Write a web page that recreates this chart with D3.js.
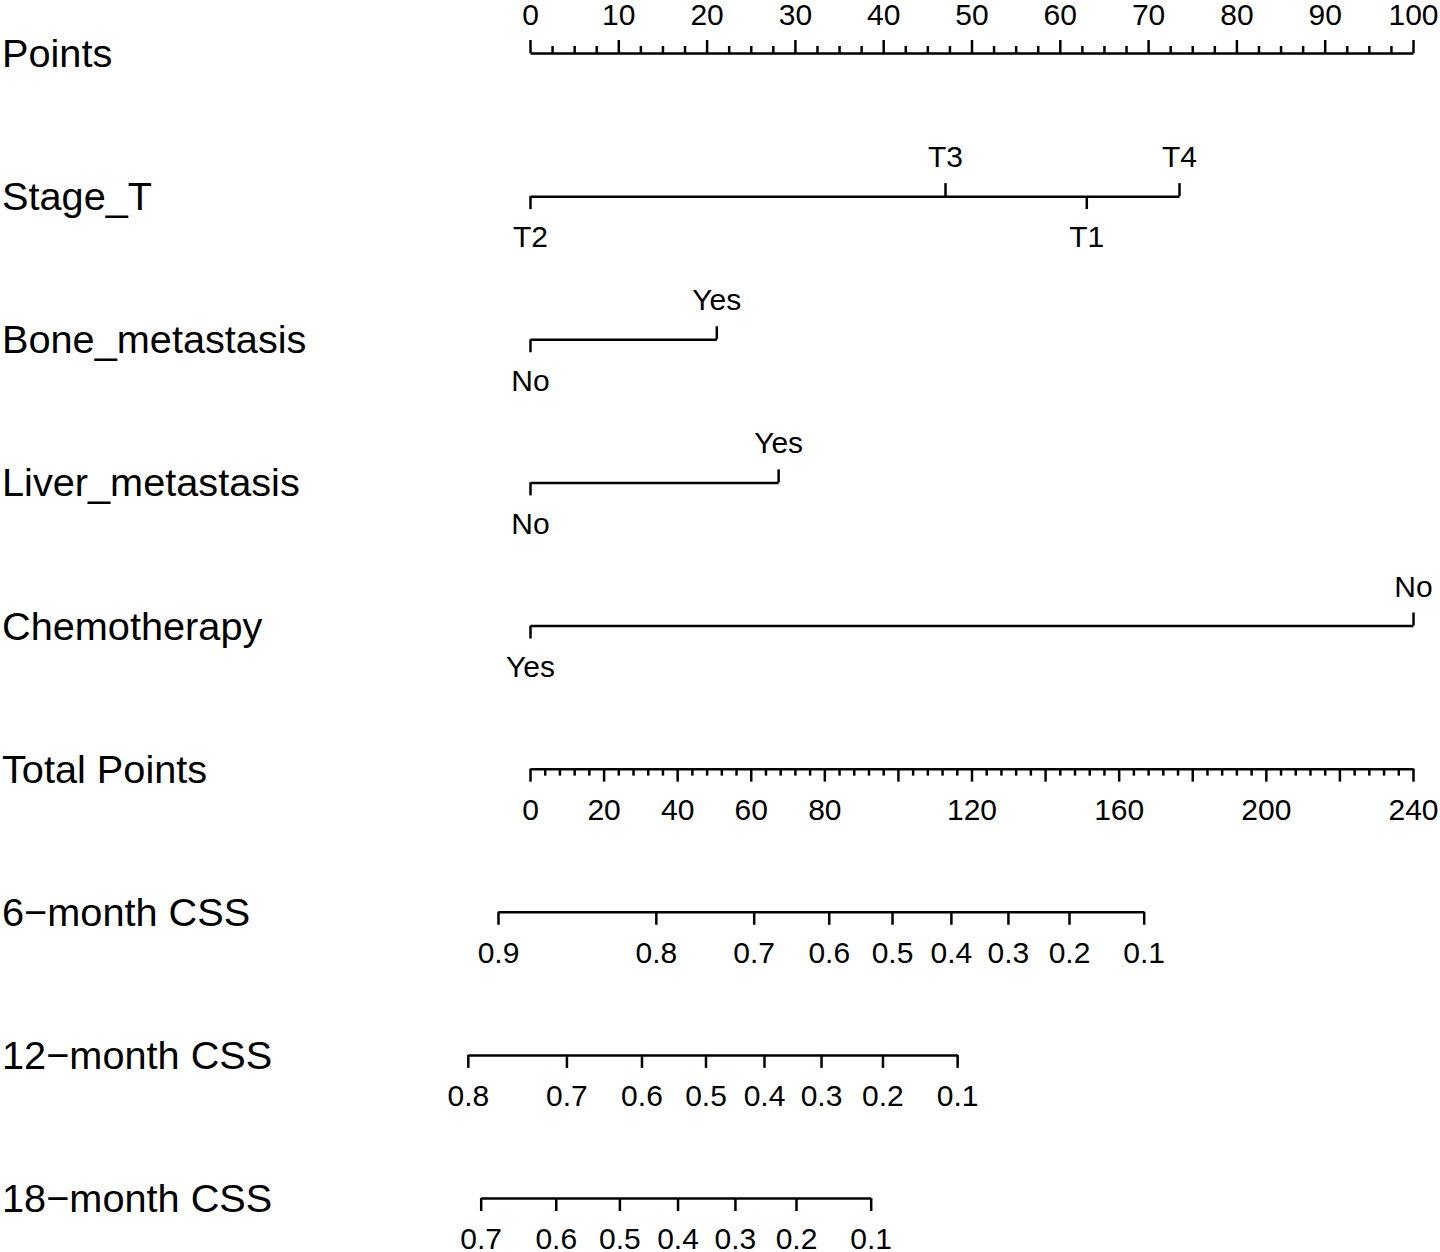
<!DOCTYPE html>
<html>
<head>
<meta charset="utf-8">
<script src="https://cdn.jsdelivr.net/npm/d3@7"></script>
<style>
  body { margin: 0; background: #fff; }
  svg { display: block; }
</style>
</head>
<body>
<div id="chart"></div>
<script>
// nomogram: points scale, predictors, total points, CSS probabilities

const width = 1440;
const height = 1252;

// Predictor levels and their points (0-100 scale)
const stageLevels = ["T2", "T3", "T1", "T4"];
const stagePoints = [0, 47.0, 63.0, 73.5];

const boneLevels = ["No", "Yes"];
const bonePoints = [0, 21.1];

const liverLevels = ["No", "Yes"];
const liverPoints = [0, 28.1];

const chemoLevels = ["Yes", "No"];
const chemoPoints = [0, 100];

// Total points axis labels
const totalLabels = [0, 20, 40, 60, 80, 120, 160, 200, 240];

// Survival probability ticks and the total points they sit at
const css6Probs = [0.9, 0.8, 0.7, 0.6, 0.5, 0.4, 0.3, 0.2, 0.1];
const css6Total = [-8.7, 34.2, 60.8, 81.2, 98.4, 114.4, 129.9, 146.5, 166.8];

const css12Probs = [0.8, 0.7, 0.6, 0.5, 0.4, 0.3, 0.2, 0.1];
const css12Total = [-16.9, 9.9, 30.3, 47.7, 63.6, 79.1, 95.8, 116.1];

const css18Probs = [0.7, 0.6, 0.5, 0.4, 0.3, 0.2, 0.1];
const css18Total = [-13.4, 7.0, 24.3, 40.1, 55.7, 72.3, 92.6];

const rowLabels = ["Points", "Stage_T", "Bone_metastasis", "Liver_metastasis",
    "Chemotherapy", "Total Points", "6\u2212month CSS", "12\u2212month CSS", "18\u2212month CSS"];

// layout
const x0 = 530, x1 = 1413;
const rowY = d3.scaleLinear().domain([0, 8]).range([53, 1198]);
const majorLen = 13, minorLen = 7;
const padTop = 16, padBottom = 17;
const font = "'Liberation Sans', Arial, Helvetica, sans-serif";
const tickFont = 30;
const lineW = 2.5;

const xPts = d3.scaleLinear().domain([0, 100]).range([x0, x1]);
const xTot = d3.scaleLinear().domain([0, 240]).range([x0, x1]);

const svg = d3.select("#chart").append("svg")
    .attr("width", width)
    .attr("height", height)
    .attr("viewBox", [0, 0, width, height]);

svg.append("rect").attr("width", width).attr("height", height).attr("fill", "#fff");

// row labels
svg.append("g")
    .selectAll("text")
    .data(rowLabels)
    .join("text")
    .attr("x", 2)
    .attr("y", (d, i) => rowY(i) + 14)
    .attr("font-family", font)
    .attr("font-size", 39.7)
    .attr("fill", "#000")
    .text(d => d);

function styleAxis(g, hideDomain) {
    g.attr("font-family", font).attr("font-size", tickFont);
    g.selectAll("path.domain").attr("stroke", "#000").attr("stroke-width", lineW)
        .attr("display", hideDomain ? "none" : null);
    g.selectAll(".tick line").attr("stroke", "#000").attr("stroke-width", lineW);
    g.selectAll(".tick text").attr("fill", "#000");
}

// Points axis: majors with labels, minors without
const pointsMajor = d3.range(0, 101, 10);
const pointsMinor = d3.range(0, 100.1, 2.5).filter(v => v % 10 !== 0);
svg.append("g")
    .attr("transform", `translate(0,${rowY(0)})`)
    .call(d3.axisTop(xPts).tickValues(pointsMinor).tickSize(minorLen).tickSizeOuter(0).tickFormat(""))
    .call(g => styleAxis(g, false));
svg.append("g")
    .attr("transform", `translate(0,${rowY(0)})`)
    .call(d3.axisTop(xPts).tickValues(pointsMajor).tickSize(majorLen).tickSizeOuter(0).tickPadding(padTop - 1))
    .call(g => styleAxis(g, true));

// categorical predictors: sorted by points, alternate below / above
function drawFactor(row, levels, pts) {
    const order = d3.range(levels.length).sort((a, b) => pts[a] - pts[b]);
    const lo = d3.min(pts), hi = d3.max(pts);
    const s = d3.scaleLinear().domain([lo, hi]).range([xPts(lo), xPts(hi)]);
    const below = order.filter((d, i) => i % 2 === 0);
    const above = order.filter((d, i) => i % 2 === 1);
    const y = rowY(row);
    svg.append("g")
        .attr("transform", `translate(0,${y})`)
        .call(d3.axisBottom(s).tickValues(below.map(i => pts[i])).tickSize(majorLen)
            .tickSizeOuter(0).tickPadding(padBottom)
            .tickFormat(v => levels[pts.indexOf(v)]))
        .call(g => styleAxis(g, false));
    svg.append("g")
        .attr("transform", `translate(0,${y})`)
        .call(d3.axisTop(s).tickValues(above.map(i => pts[i])).tickSize(majorLen)
            .tickSizeOuter(0).tickPadding(padTop)
            .tickFormat(v => levels[pts.indexOf(v)]))
        .call(g => styleAxis(g, true));
}

drawFactor(1, stageLevels, stagePoints);
drawFactor(2, boneLevels, bonePoints);
drawFactor(3, liverLevels, liverPoints);
drawFactor(4, chemoLevels, chemoPoints);

// Total points axis
const totalMajor = d3.range(0, 241, 20);
const totalMinor = d3.range(0, 241, 4).filter(v => v % 20 !== 0);
svg.append("g")
    .attr("transform", `translate(0,${rowY(5)})`)
    .call(d3.axisBottom(xTot).tickValues(totalMinor).tickSize(minorLen).tickSizeOuter(0).tickFormat(""))
    .call(g => styleAxis(g, false));
svg.append("g")
    .attr("transform", `translate(0,${rowY(5)})`)
    .call(d3.axisBottom(xTot).tickValues(totalMajor).tickSize(majorLen).tickSizeOuter(0)
        .tickPadding(padBottom).tickFormat(v => totalLabels.includes(v) ? v : ""))
    .call(g => styleAxis(g, true));

// probability axes
function drawProb(row, probs, totals) {
    const s = d3.scaleLinear().domain(probs).range(totals.map(t => xTot(t)));
    svg.append("g")
        .attr("transform", `translate(0,${rowY(row)})`)
        .call(d3.axisBottom(s).tickValues(probs).tickSize(majorLen).tickSizeOuter(0)
            .tickPadding(padBottom).tickFormat(d3.format(".1f")))
        .call(g => styleAxis(g, false));
}

drawProb(6, css6Probs, css6Total);
drawProb(7, css12Probs, css12Total);
drawProb(8, css18Probs, css18Total);
</script>
</body>
</html>
